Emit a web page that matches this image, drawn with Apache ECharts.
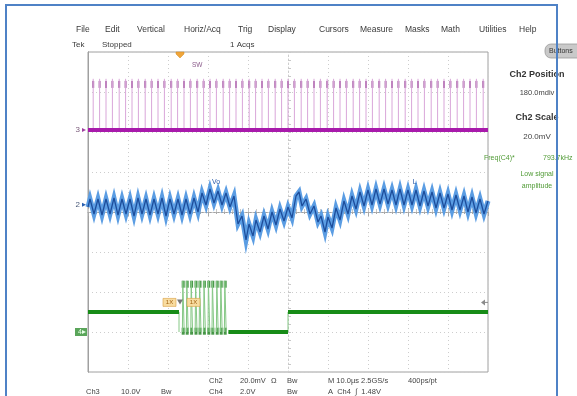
<!DOCTYPE html>
<html><head><meta charset="utf-8">
<script src="https://cdn.jsdelivr.net/npm/echarts@6/dist/echarts.min.js"></script>
<style>html,body{margin:0;padding:0;background:#fff;overflow:hidden}#c{width:577px;height:396px}</style>
</head><body><div id="c"></div><script>
// Horizontal: 10 us/div over 10 divisions
const timeSpan = [0, 100];
// Vertical settings per channel: scale per div and ground position in div
const ch2Scale = 20, ch2Pos = 0.18;   // mV/div
const ch3Scale = 10, ch3Pos = 2.05;   // V/div
const ch4Scale = 2,  ch4Pos = -3.0;   // V/div
const trigTime = 23;                  // us
const trigLevel = 1.48;               // V on Ch4

// Ch3 (SW node) switching edges, us
const swTimes = [1.3, 2.9, 4.5, 6.1, 7.8, 9.4, 11.0, 12.6, 14.3, 15.9, 17.5, 19.1, 20.8, 22.4,
  24.0, 25.6, 27.3, 28.9, 30.5, 32.1, 33.8, 35.4, 37.0, 38.6, 40.3, 41.9, 43.5, 45.1, 46.8,
  48.4, 50.0, 51.6, 53.3, 54.9, 56.5, 58.1, 59.8, 61.4, 63.0, 64.6, 66.3, 67.9, 69.5, 71.1,
  72.8, 74.4, 76.0, 77.6, 79.3, 80.9, 82.5, 84.1, 85.8, 87.4, 89.0, 90.6, 92.3, 93.9, 95.5,
  97.1, 98.8];
const swBase = 0;      // V
const swPeak = 12.8;   // V
const swRing = 11.4;   // V, centre of ringing blob at the top

// Ch2 output voltage (AC ripple), us and mV
const voTime = [0, 0.5, 1.5, 2.5, 3.5, 4.5, 5.5, 6.5, 7.5, 8.5, 9.5, 10.5, 11.5, 12.5, 13.5, 14.5,
  15.5, 16.5, 17.5, 18.5, 19.5, 20.5, 21.5, 22.5, 23.5, 24.5, 25.5, 26.5, 27.5, 28.5, 29.5,
  30.5, 31.5, 32.5, 33.5, 34.5, 35.5, 36.5, 37.5, 38.5, 39.5, 40.25, 41.25, 42, 43, 44, 45,
  46, 47, 48, 49, 50, 51, 52, 52.75, 53.5, 54.5, 55.5, 56.5, 57.5, 58.25, 59.25, 60, 61, 62,
  63, 64, 65, 66, 67, 68, 69, 70, 71, 72, 73, 74, 75, 76, 77, 78, 79, 80, 81, 82, 83, 84, 85,
  86, 87, 88, 89, 90, 91, 92, 93, 94, 95, 96, 97, 98, 99, 100];
const voMv = [-1.1, 2.9, -4.6, 2.9, -5.1, 2.9, -4.6, 3.4, -5.1, 2.9, -4.6, 2.9, -5.6, 3.4, -4.6,
  2.9, -5.1, 2.9, -4.6, 3.4, -5.6, 2.9, -4.6, 2.9, -5.1, 2.9, -4.6, 3.4, -3.6, 5.9, -0.1, 7.9,
  0.9, 6.9, -0.1, 5.9, -1.1, 4.4, -9.6, -5.6, -17.6, -9.6, -15.6, -7.6, -13.6, -5.6, -12.1,
  -3.6, -10.1, -2.1, -8.1, -1.1, -6.6, 4.4, 6.4, -0.6, 2.9, -4.6, -0.6, -8.6, -5.6, -13.6,
  -6.1, -11.6, -1.6, -7.6, 1.9, -4.6, 4.4, -2.1, 6.4, -0.6, 7.4, -0.1, 7.9, 0.4, 7.9, 0.4,
  7.4, -0.1, 7.9, -0.1, 7.4, -0.1, 7.4, -0.6, 6.9, -0.6, 6.4, -1.6, 5.9, -1.6, 5.4, -2.6,
  4.9, -2.6, 4.4, -3.6, 3.9, -4.1, 2.9, -4.6, 1.9];

// Ch4 gate signal: levels, burst pulses and edges
const gateHigh = 1.0, gateLow = 0, burstPeak = 2.55;
const burstTimes = [23.8, 24.8, 25.9, 27.0, 28.0, 29.1, 30.2, 31.2, 32.3, 33.3, 34.3];
const gateFall = 22.75, burstEnd = 35.1, gateRise = 50;

const toDiv = (v, scale, pos) => v / scale + pos;
const ch2 = v => toDiv(v, ch2Scale, ch2Pos);
const ch3 = v => toDiv(v, ch3Scale, ch3Pos);
const ch4 = v => toDiv(v, ch4Scale, ch4Pos);

const voData = voTime.map((t, i) => [t, ch2(voMv[i])]);

const swLines = [];
swTimes.forEach(t => { swLines.push([t, ch3(swBase)], [t, ch3(swPeak)], null); });
const swTops = swTimes.map(t => [t, ch3(swRing)]);

const burstLines = [];
burstTimes.forEach(t => {
  burstLines.push([t - 0.2, ch4(gateLow)], [t - 0.1, ch4(burstPeak)], [t + 0.15, ch4(burstPeak)], [t + 0.25, ch4(gateLow)], null);
});
burstLines.push([gateFall, ch4(gateHigh)], [gateFall, ch4(gateLow)], null);
burstLines.push([gateRise, ch4(gateLow)], [gateRise, ch4(gateHigh)], null);
const burstTops = burstTimes.map(t => [t, ch4(burstPeak) - 0.08]);
const burstLows = burstTimes.map(t => [t, ch4(gateLow) + 0.02]);
const gateLevels = [[timeSpan[0], ch4(gateHigh)], [gateFall, ch4(gateHigh)], null,
  [burstEnd, ch4(gateLow)], [gateRise, ch4(gateLow)], null,
  [gateRise, ch4(gateHigh)], [timeSpan[1], ch4(gateHigh)]];

const chart = echarts.init(document.getElementById('c'), null, {renderer: 'canvas'});
const G = {left: 88, top: 52, width: 400, height: 320};
const tickStyle = {color: '#a8a8a8', width: 1};
const faintTick = {color: '#c8c8c8', width: 1};
const edgeAxis = (extra) => Object.assign({
  type: 'value', gridIndex: 0,
  axisLine: {show: true, lineStyle: {color: '#a0a0a0', width: 1}},
  axisTick: {show: true, inside: true, length: 4, lineStyle: tickStyle},
  minorTick: {show: true, splitNumber: 5, length: 2, lineStyle: tickStyle},
  axisLabel: {show: false}, splitLine: {show: false}
}, extra);
const halfSpan = (timeSpan[1] - timeSpan[0]) / 2;

const baseSeries = {type: 'line', xAxisIndex: 0, yAxisIndex: 0, symbol: 'none', silent: true, connectNulls: false, animation: false};

chart.setOption({
  animation: false,
  backgroundColor: '#ffffff',
  grid: [
    Object.assign({show: true, backgroundColor: '#ffffff', borderColor: '#a0a0a0'}, G),
    Object.assign({show: false}, G)
  ],
  xAxis: [
    edgeAxis({min: timeSpan[0], max: timeSpan[1], interval: 10, position: 'bottom',
      splitLine: {show: true, lineStyle: {color: '#cdcdcd', type: [1, 3], width: 1}}}),
    edgeAxis({min: timeSpan[0], max: timeSpan[1], interval: 10, position: 'top'}),
    // centre cross, graduated
    edgeAxis({gridIndex: 1, min: -halfSpan, max: halfSpan, interval: 10,
      axisLine: {show: true, onZero: true, lineStyle: {color: '#cdcdcd', type: [1, 3]}},
      axisTick: {show: true, inside: true, length: 3, lineStyle: faintTick},
      minorTick: {show: true, splitNumber: 5, length: 3, lineStyle: faintTick}})
  ],
  yAxis: [
    edgeAxis({min: -4, max: 4, interval: 1, position: 'left',
      axisTick: {show: false}, minorTick: {show: false},
      splitLine: {show: true, lineStyle: {color: '#cdcdcd', type: [1, 3], width: 1}}}),
    edgeAxis({min: -4, max: 4, interval: 1, position: 'right', axisTick: {show: false}, minorTick: {show: false}}),
    edgeAxis({gridIndex: 1, min: -4, max: 4, interval: 1,
      axisLine: {show: true, onZero: true, lineStyle: {color: '#cdcdcd', type: [1, 3]}},
      axisTick: {show: true, inside: true, length: 3, lineStyle: faintTick},
      minorTick: {show: true, splitNumber: 5, length: 3, lineStyle: faintTick}})
  ],
  series: [
    // Ch3 switch node
    Object.assign({}, baseSeries, {name: 'SW edges', data: swLines, lineStyle: {color: '#d9a6d9', width: 1}}),
    Object.assign({}, baseSeries, {name: 'SW base', data: [[timeSpan[0], ch3(swBase)], [timeSpan[1], ch3(swBase)]],
      lineStyle: {color: '#a81aab', width: 4}}),
    {type: 'scatter', name: 'SW ring', xAxisIndex: 0, yAxisIndex: 0, data: swTops, symbol: 'rect',
      symbolSize: [2, 7], itemStyle: {color: '#8e3a8e'}, silent: true, animation: false},
    // Ch2 output voltage
    Object.assign({}, baseSeries, {name: 'Vo glow', data: voData, lineStyle: {color: '#5b9de3', width: 5, join: 'miter'}}),
    Object.assign({}, baseSeries, {name: 'Vo', data: voData, lineStyle: {color: '#1d4e9c', width: 1.3}}),
    // Ch4 gate
    Object.assign({}, baseSeries, {name: 'Gate edges', data: burstLines, lineStyle: {color: '#86c886', width: 1}}),
    Object.assign({}, baseSeries, {name: 'Gate', data: gateLevels, lineStyle: {color: '#178c17', width: 4, cap: 'butt'}}),
    {type: 'scatter', name: 'Gate ring hi', xAxisIndex: 0, yAxisIndex: 0, data: burstTops, symbol: 'rect',
      symbolSize: [3, 7], itemStyle: {color: '#1d7f1d'}, silent: true, animation: false},
    {type: 'scatter', name: 'Gate ring lo', xAxisIndex: 0, yAxisIndex: 0, data: burstLows, symbol: 'rect',
      symbolSize: [3, 7], itemStyle: {color: '#1d7f1d'}, silent: true, animation: false}
  ]
});

const px = (t, d) => chart.convertToPixel({xAxisIndex: 0, yAxisIndex: 0}, [t, d]);
const FONT = '"Liberation Sans", Arial, sans-serif';
const txt = (text, x, y, o = {}) => ({
  type: 'text', silent: true, z: 80,
  style: {text, x, y, font: (o.weight || 'normal') + ' ' + (o.size || 8) + 'px ' + FONT,
    fill: o.color || '#3a3a3a', textAlign: o.align || 'left', textVerticalAlign: 'middle'}
});

const g = [];
// menu bar
[['File', 76], ['Edit', 105], ['Vertical', 137], ['Horiz/Acq', 184], ['Trig', 238], ['Display', 268],
 ['Cursors', 319], ['Measure', 360], ['Masks', 405], ['Math', 441], ['Utilities', 479], ['Help', 519]]
  .forEach(([s, x]) => g.push(txt(s, x, 30, {size: 8.5})));
// status line
g.push(txt('Tek', 72, 45, {size: 8}), txt('Stopped', 102, 45, {size: 8}), txt('1 Acqs', 230, 45, {size: 8}));

// trigger position marker
const tp = px(trigTime, 4);
g.push({type: 'polygon', z: 60, silent: true, shape: {points: [[tp[0] - 4, tp[1]], [tp[0] + 4, tp[1]], [tp[0] + 4, tp[1] + 2], [tp[0], tp[1] + 6], [tp[0] - 4, tp[1] + 2]]},
  style: {fill: '#f0a53a', stroke: '#d08a20', lineWidth: 0.5}});

// channel ground markers
const m3 = px(0, ch3(0)), m2 = px(0, ch2(0)), m4 = px(0, ch4(0));
g.push(txt('3', m3[0] - 8, m3[1], {color: '#7a5a7a', align: 'right'}));
g.push({type: 'polygon', z: 60, silent: true, shape: {points: [[m3[0] - 6, m3[1] - 2], [m3[0] - 2, m3[1]], [m3[0] - 6, m3[1] + 2]]}, style: {fill: '#a040a0'}});
g.push(txt('2', m2[0] - 8, m2[1], {color: '#4a5a7a', align: 'right'}));
g.push({type: 'polygon', z: 60, silent: true, shape: {points: [[m2[0] - 6, m2[1] - 2], [m2[0] - 2, m2[1]], [m2[0] - 6, m2[1] + 2]]}, style: {fill: '#2a60b0'}});
g.push({type: 'rect', z: 60, silent: true, shape: {x: m4[0] - 13, y: m4[1] - 4, width: 12, height: 8}, style: {fill: '#5aa55a'}});
g.push(txt('4', m4[0] - 10, m4[1], {color: '#e8ffe8', size: 7}));
g.push({type: 'polygon', z: 81, silent: true, shape: {points: [[m4[0] - 6, m4[1] - 2], [m4[0] - 2, m4[1]], [m4[0] - 6, m4[1] + 2]]}, style: {fill: '#e8ffe8'}});

// trigger level marker at right edge
const tl = px(timeSpan[1], ch4(trigLevel));
g.push({type: 'polygon', z: 60, silent: true, shape: {points: [[tl[0] - 7, tl[1]], [tl[0] - 3, tl[1] - 3], [tl[0] - 3, tl[1] + 3]]}, style: {fill: '#8a8a8a'}});
g.push({type: 'line', z: 60, silent: true, shape: {x1: tl[0] - 3, y1: tl[1], x2: tl[0], y2: tl[1]}, style: {stroke: '#8a8a8a', lineWidth: 1}});

// cursor tags at trigger level
const ct = px(trigTime, ch4(trigLevel));
[[-17, '1X'], [7, '1X']].forEach(([dx, s]) => {
  g.push({type: 'rect', z: 60, silent: true, shape: {x: ct[0] + dx, y: ct[1] - 4, width: 13, height: 8}, style: {fill: '#f8dca0', stroke: '#d9a040', lineWidth: 0.6}});
  g.push(txt(s, ct[0] + dx + 6.5, ct[1], {size: 6, color: '#a06010', align: 'center'}));
});
g.push({type: 'polygon', z: 60, silent: true, shape: {points: [[ct[0] - 3, ct[1] - 3], [ct[0] + 3, ct[1] - 3], [ct[0], ct[1] + 2]]}, style: {fill: '#777'}});

// trace labels
const lSw = px(26, ch3(16.3)), lVo = px(31, ch2(11.5)), lIl = px(81.2, ch2(11.5));
g.push(txt('SW', lSw[0], lSw[1], {size: 6.5, color: '#8a5a8a'}));
g.push(txt('Vo', lVo[0], lVo[1], {size: 7, color: '#2a5aa8'}));
g.push(txt('L', lIl[0], lIl[1], {size: 7, color: '#2a5aa8'}));

// right-hand panel
g.push({type: 'rect', z: 55, silent: true, shape: {x: 545, y: 44, width: 40, height: 14, r: 6}, style: {fill: '#c9c9c9', stroke: '#9a9a9a', lineWidth: 0.8}});
g.push(txt('Buttons', 549, 51, {size: 7, color: '#333'}));
g.push(txt('Ch2 Position', 537, 75, {size: 9, weight: 'bold', align: 'center', color: '#333'}));
g.push(txt('180.0mdiv', 537, 93, {size: 7.5, align: 'center', color: '#444'}));
g.push(txt('Ch2 Scale', 537, 118, {size: 9, weight: 'bold', align: 'center', color: '#333'}));
g.push(txt('20.0mV', 537, 137, {size: 8, align: 'center', color: '#444'}));
g.push(txt('Freq(C4)*', 484, 158, {size: 7, color: '#4f9a34'}));
g.push(txt('793.7kHz', 543, 158, {size: 7, color: '#4f9a34'}));
g.push(txt('Low signal', 537, 174, {size: 7, align: 'center', color: '#4f9a34'}));
g.push(txt('amplitude', 537, 186, {size: 7, align: 'center', color: '#4f9a34'}));

// bottom readouts
[['Ch2', 209, 381], ['20.0mV', 240, 381], ['Ω', 271, 381], ['Bw', 287, 381], ['M 10.0µs 2.5GS/s', 328, 381], ['400ps/pt', 408, 381],
 ['Ch3', 86, 392], ['10.0V', 121, 392], ['Bw', 161, 392], ['Ch4', 209, 392], ['2.0V', 240, 392], ['Bw', 287, 392], ['A  Ch4  ∫  1.48V', 328, 392]]
  .forEach(([s, x, y]) => g.push(txt(s, x, y, {size: 7.5, color: '#444'})));

// window frame
g.push({type: 'polyline', z: 100, silent: true, shape: {points: [[6, 400], [6, 5], [557, 5], [557, 400]]}, style: {stroke: '#4f82c6', lineWidth: 2, fill: null}});

chart.setOption({graphic: {elements: g}});
</script></body></html>
